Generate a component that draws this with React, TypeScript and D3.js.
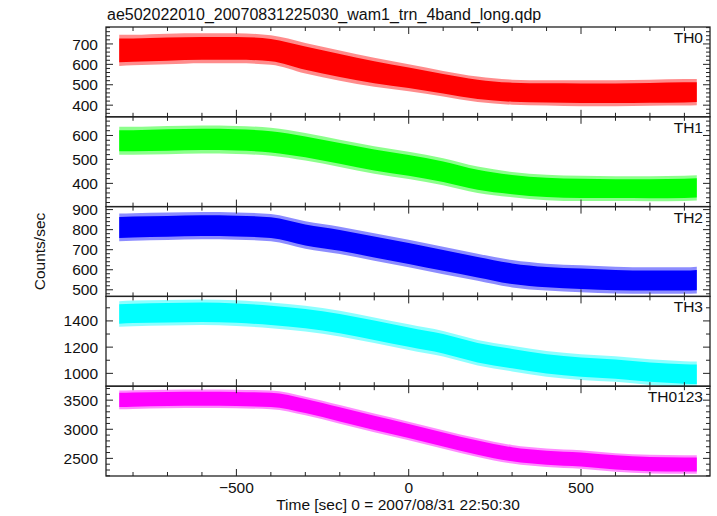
import React from 'react';
import * as d3 from 'd3';

// ---- data ----
const TIMES = [-840, -800, -700, -600, -500, -400, -300, -200, -100, 0, 100, 200, 300, 400, 500, 600, 700, 800, 836];

const TH0_HI = [745, 745, 750, 752, 752, 742, 705, 668, 632, 600, 568, 540, 525, 522, 522, 522, 524, 528, 528];
const TH0_LO = [592, 595, 600, 605, 605, 598, 555, 520, 490, 468, 442, 415, 402, 398, 395, 395, 397, 398, 400];

const TH1_HI = [636, 636, 640, 642, 640, 632, 610, 582, 555, 532, 505, 470, 448, 436, 432, 430, 430, 432, 434];
const TH1_LO = [520, 520, 522, 525, 523, 515, 495, 468, 440, 418, 392, 360, 342, 330, 326, 326, 325, 326, 328];

const TH2_HI = [880, 882, 885, 888, 886, 878, 842, 815, 782, 750, 715, 680, 648, 630, 622, 615, 612, 612, 615];
const TH2_LO = [742, 745, 748, 752, 750, 742, 705, 678, 645, 612, 578, 545, 512, 496, 488, 482, 480, 480, 482];

const TH3_HI = [1550, 1555, 1560, 1563, 1557, 1540, 1515, 1477, 1426, 1374, 1323, 1255, 1210, 1170, 1145, 1130, 1107, 1093, 1090];
const TH3_LO = [1355, 1360, 1365, 1368, 1362, 1345, 1320, 1282, 1231, 1179, 1128, 1060, 1015, 975, 950, 935, 912, 898, 895];

const TH0123_HI = [3665, 3670, 3680, 3685, 3680, 3665, 3560, 3415, 3270, 3130, 2985, 2845, 2730, 2670, 2640, 2590, 2560, 2555, 2555];
const TH0123_LO = [3345, 3350, 3360, 3365, 3360, 3345, 3240, 3095, 2950, 2810, 2665, 2525, 2410, 2350, 2320, 2270, 2240, 2235, 2235];

const NAMES = ['TH0', 'TH1', 'TH2', 'TH3', 'TH0123'];
const COLORS = ['#ff0000', '#00ff00', '#0000ff', '#00ffff', '#ff00ff'];
const Y_DOMAINS: [number, number][] = [[343, 783], [303, 678], [467, 915], [902, 1587], [2197, 3740]];
const Y_MAJOR = [[400, 500, 600, 700], [400, 500, 600], [500, 600, 700, 800, 900], [1000, 1200, 1400], [2500, 3000, 3500]];
const Y_MINOR_STEP = [20, 20, 20, 100, 100];
const X_MAJOR = [-500, 0, 500];
const X_MINOR_STEP = 100;

const TITLE = 'ae502022010_20070831225030_wam1_trn_4band_long.qdp';
const X_LABEL = 'Time [sec] 0 = 2007/08/31 22:50:30';
const Y_LABEL = 'Counts/sec';

const HI = [TH0_HI, TH1_HI, TH2_HI, TH3_HI, TH0123_HI];
const LO = [TH0_LO, TH1_LO, TH2_LO, TH3_LO, TH0123_LO];

// ---- layout ----
const W = 717, H = 516;
const L = 106, R = 710, TOP = 27, PH = 89.8;
const FONT = '"Liberation Sans", Arial, Helvetica, sans-serif';
const FS = 15.5;
const AXIS = '#222';

const x = d3.scaleLinear().domain([-878.4, 874.3]).range([L, R]);

function fmt(v: number) {
  return v < 0 ? '\u2212' + Math.abs(v) : String(v);
}

export default function App() {
  const panels = NAMES.map((name, i) => {
    const y0 = TOP + i * PH;
    const y1 = y0 + PH;
    const y = d3.scaleLinear().domain(Y_DOMAINS[i]).range([y1, y0]);
    const hi = HI[i], lo = LO[i];
    const outer = d3.area<number>()
      .x((_, j) => x(TIMES[j]))
      .y0((_, j) => y(lo[j]))
      .y1((_, j) => y(hi[j]))
      .curve(d3.curveMonotoneX)(TIMES) || '';
    const core = d3.area<number>()
      .x((_, j) => x(TIMES[j]))
      .y0((_, j) => y((lo[j] + hi[j]) / 2 - 0.38 * (hi[j] - lo[j])))
      .y1((_, j) => y((lo[j] + hi[j]) / 2 + 0.38 * (hi[j] - lo[j])))
      .curve(d3.curveMonotoneX)(TIMES) || '';

    const ticks: JSX.Element[] = [];
    const [d0, d1] = Y_DOMAINS[i];
    const step = Y_MINOR_STEP[i];
    for (let v = Math.ceil(d0 / step) * step; v <= d1; v += step) {
      const major = Y_MAJOR[i].includes(v);
      const len = major ? 7 : 4;
      const yy = y(v);
      ticks.push(<line key={`yl${v}`} x1={L} x2={L + len} y1={yy} y2={yy} stroke={AXIS} strokeWidth={1} />);
      ticks.push(<line key={`yr${v}`} x1={R} x2={R - len} y1={yy} y2={yy} stroke={AXIS} strokeWidth={1} />);
    }
    for (let v = -800; v <= 800; v += X_MINOR_STEP) {
      const major = X_MAJOR.includes(v);
      const len = major ? 7 : 4;
      const xx = x(v);
      ticks.push(<line key={`xt${v}`} x1={xx} x2={xx} y1={y0} y2={y0 + len} stroke={AXIS} strokeWidth={1} />);
      ticks.push(<line key={`xb${v}`} x1={xx} x2={xx} y1={y1} y2={y1 - len} stroke={AXIS} strokeWidth={1} />);
    }

    return (
      <g key={name}>
        <clipPath id={`clip${i}`}>
          <rect x={L} y={y0} width={R - L} height={PH} />
        </clipPath>
        <g clipPath={`url(#clip${i})`}>
          <path d={outer} fill={COLORS[i]} fillOpacity={0.45} />
          <path d={core} fill={COLORS[i]} />
        </g>
        {ticks}
        {Y_MAJOR[i].map(v => (
          <text key={`lab${v}`} x={L - 8} y={y(v)} dy="0.36em" textAnchor="end"
            fontFamily={FONT} fontSize={FS} fill="#111">{fmt(v)}</text>
        ))}
        <text x={703} y={y0 + 16} textAnchor="end" fontFamily={FONT} fontSize={FS} fill="#111">{name}</text>
        <rect x={L} y={y0} width={R - L} height={PH} fill="none" stroke={AXIS} strokeWidth={1.3} />
      </g>
    );
  });

  const bottom = TOP + 5 * PH;

  return (
    <svg width={W} height={H} style={{ position: 'absolute', left: 0, top: 0, background: '#fff' }}>
      <rect x={0} y={0} width={W} height={H} fill="#fff" />
      <text x={107} y={20} fontFamily={FONT} fontSize={16} fill="#111">{TITLE}</text>
      {panels}
      {X_MAJOR.map(v => (
        <text key={`xl${v}`} x={x(v)} y={bottom + 17} textAnchor="middle" fontFamily={FONT} fontSize={FS} fill="#111">{fmt(v)}</text>
      ))}
      <text x={(L + R) / 2 - 10} y={bottom + 34} textAnchor="middle" fontFamily={FONT} fontSize={FS} fill="#111">{X_LABEL}</text>
      <text transform={`translate(45,${TOP + 2.5 * PH}) rotate(-90)`} textAnchor="middle"
        fontFamily={FONT} fontSize={FS} fill="#111">{Y_LABEL}</text>
    </svg>
  );
}
